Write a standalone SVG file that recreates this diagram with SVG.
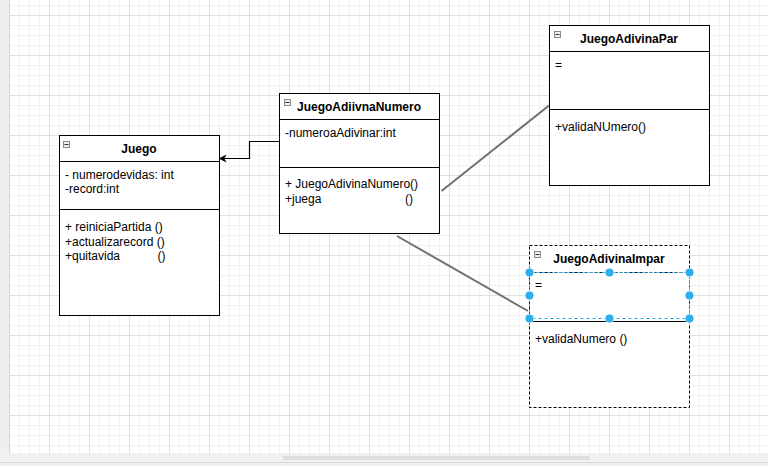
<svg xmlns="http://www.w3.org/2000/svg" width="768" height="466" viewBox="0 0 768 466">
  <defs>
    <pattern id="grid" patternUnits="userSpaceOnUse" x="9" y="15" width="40" height="40">
      <rect x="0" y="0" width="40" height="40" fill="#ffffff"/>
      <rect x="10" y="0" width="1" height="40" fill="#f2f2f2"/>
      <rect x="20" y="0" width="1" height="40" fill="#f2f2f2"/>
      <rect x="30" y="0" width="1" height="40" fill="#f2f2f2"/>
      <rect x="0" y="10" width="40" height="1" fill="#f2f2f2"/>
      <rect x="0" y="20" width="40" height="1" fill="#f2f2f2"/>
      <rect x="0" y="30" width="40" height="1" fill="#f2f2f2"/>
      <rect x="0" y="0" width="1" height="40" fill="#e0e0e0"/>
      <rect x="0" y="0" width="40" height="1" fill="#e0e0e0"/>
    </pattern>
    <marker id="arrow" viewBox="0 0 10 10" refX="9" refY="5" markerWidth="8" markerHeight="8" markerUnits="userSpaceOnUse" orient="auto">
      <path d="M0,0 L10,5 L0,10 L3,5 Z" fill="#000"/>
    </marker>
    <g id="collapse">
      <rect x="0.5" y="0.5" width="6" height="6" fill="#f0f0f0" stroke="#8a8a8a" stroke-width="1"/>
      <line x1="1.5" y1="3.5" x2="5.5" y2="3.5" stroke="#333" stroke-width="1"/>
    </g>
  </defs>
  <style>
    text { font-family: "Liberation Sans", Arial, sans-serif; font-size: 12px; fill: #000; }
    .title { font-weight: bold; text-anchor: middle; }
    .box { fill: #ffffff; stroke: #000; stroke-width: 1; }
    .sep { stroke: #000; stroke-width: 1; }
    .dashbox { fill: #ffffff; stroke: #000; stroke-width: 1; stroke-dasharray: 3 2; }
    .assoc { stroke: #717171; stroke-width: 2; fill: none; }
    .handle { fill: #29b0ef; stroke: #ffffff; stroke-width: 0.8; }
  </style>

  <!-- canvas and editor chrome -->
  <rect x="0" y="0" width="768" height="466" fill="#efefef"/>
  <rect x="9" y="0" width="759" height="453" fill="url(#grid)"/>
  <line x1="9.5" y1="0" x2="9.5" y2="453" stroke="#d6d6d6"/>
  <rect x="0" y="453" width="768" height="13" fill="#f0f0f0"/>
  <rect x="283" y="456" width="307" height="4" fill="#dedede"/>
  <line x1="0" y1="462.5" x2="768" y2="462.5" stroke="#d8d8d8"/>

  <!-- connectors -->
  <g id="connectors">
    <polyline points="279,141.5 249.5,141.5 249.5,158.5 219.5,158.5" fill="none" stroke="#000" stroke-width="1.2" marker-end="url(#arrow)"/>
    <line class="assoc" x1="441.5" y1="191" x2="549" y2="105.5"/>
    <line class="assoc" x1="397" y1="236" x2="528" y2="311"/>
  </g>

  <!-- Juego -->
  <g id="juego">
    <rect class="box" x="59.5" y="135.5" width="160" height="180"/>
    <line class="sep" x1="59.5" y1="161.5" x2="219.5" y2="161.5"/>
    <line class="sep" x1="59.5" y1="209.5" x2="219.5" y2="209.5"/>
    <use href="#collapse" x="63" y="141"/>
    <text class="title" x="139" y="153">Juego</text>
    <text x="65" y="178.5">- numerodevidas: int</text>
    <text x="65" y="193">-record:int</text>
    <text x="65" y="231">+ reiniciaPartida ()</text>
    <text x="65" y="245.5">+actualizarecord ()</text>
    <text x="65" y="260">+quitavida<tspan x="157.5">()</tspan></text>
  </g>

  <!-- JuegoAdiivnaNumero -->
  <g id="juego-adivina-numero">
    <rect class="box" x="279.5" y="93.5" width="160" height="140"/>
    <line class="sep" x1="279.5" y1="119.5" x2="439.5" y2="119.5"/>
    <line class="sep" x1="279.5" y1="167.5" x2="439.5" y2="167.5"/>
    <use href="#collapse" x="284" y="99"/>
    <text class="title" x="359" y="111">JuegoAdiivnaNumero</text>
    <text x="285" y="136.5">-numeroaAdivinar:int</text>
    <text x="285" y="188">+ JuegoAdivinaNumero()</text>
    <text x="285" y="202.5">+juega<tspan x="405">()</tspan></text>
  </g>

  <!-- JuegoAdivinaPar -->
  <g id="juego-adivina-par">
    <rect class="box" x="549.5" y="25.5" width="160" height="160"/>
    <line class="sep" x1="549.5" y1="51.5" x2="709.5" y2="51.5"/>
    <line class="sep" x1="549.5" y1="109.5" x2="709.5" y2="109.5"/>
    <use href="#collapse" x="554" y="31"/>
    <text class="title" x="629" y="43">JuegoAdivinaPar</text>
    <text x="555" y="69">=</text>
    <text x="555" y="131">+validaNUmero()</text>
  </g>

  <!-- JuegoAdivinaImpar (attribute section selected) -->
  <g id="juego-adivina-impar">
    <rect class="dashbox" x="529.5" y="245.5" width="160" height="162"/>
    <line class="sep" x1="529.5" y1="272.5" x2="689.5" y2="272.5" stroke-dasharray="3 2"/>
    <line class="sep" x1="529.5" y1="321.5" x2="689.5" y2="321.5"/>
    <use href="#collapse" x="534" y="251"/>
    <text class="title" x="609" y="263">JuegoAdivinaImpar</text>
    <text x="535" y="289">=</text>
    <text x="535" y="343">+validaNumero ()</text>
    <rect x="529.5" y="272.5" width="160" height="46" fill="none" stroke="#1ea7ee" stroke-width="1" stroke-dasharray="3 3"/>
    <circle class="handle" cx="529.5" cy="272.5" r="4.5"/>
    <circle class="handle" cx="609.5" cy="272.5" r="4.5"/>
    <circle class="handle" cx="689.5" cy="272.5" r="4.5"/>
    <circle class="handle" cx="529.5" cy="295.5" r="4.5"/>
    <circle class="handle" cx="689.5" cy="295.5" r="4.5"/>
    <circle class="handle" cx="529.5" cy="318.5" r="4.5"/>
    <circle class="handle" cx="609.5" cy="318.5" r="4.5"/>
    <circle class="handle" cx="689.5" cy="318.5" r="4.5"/>
  </g>
</svg>
